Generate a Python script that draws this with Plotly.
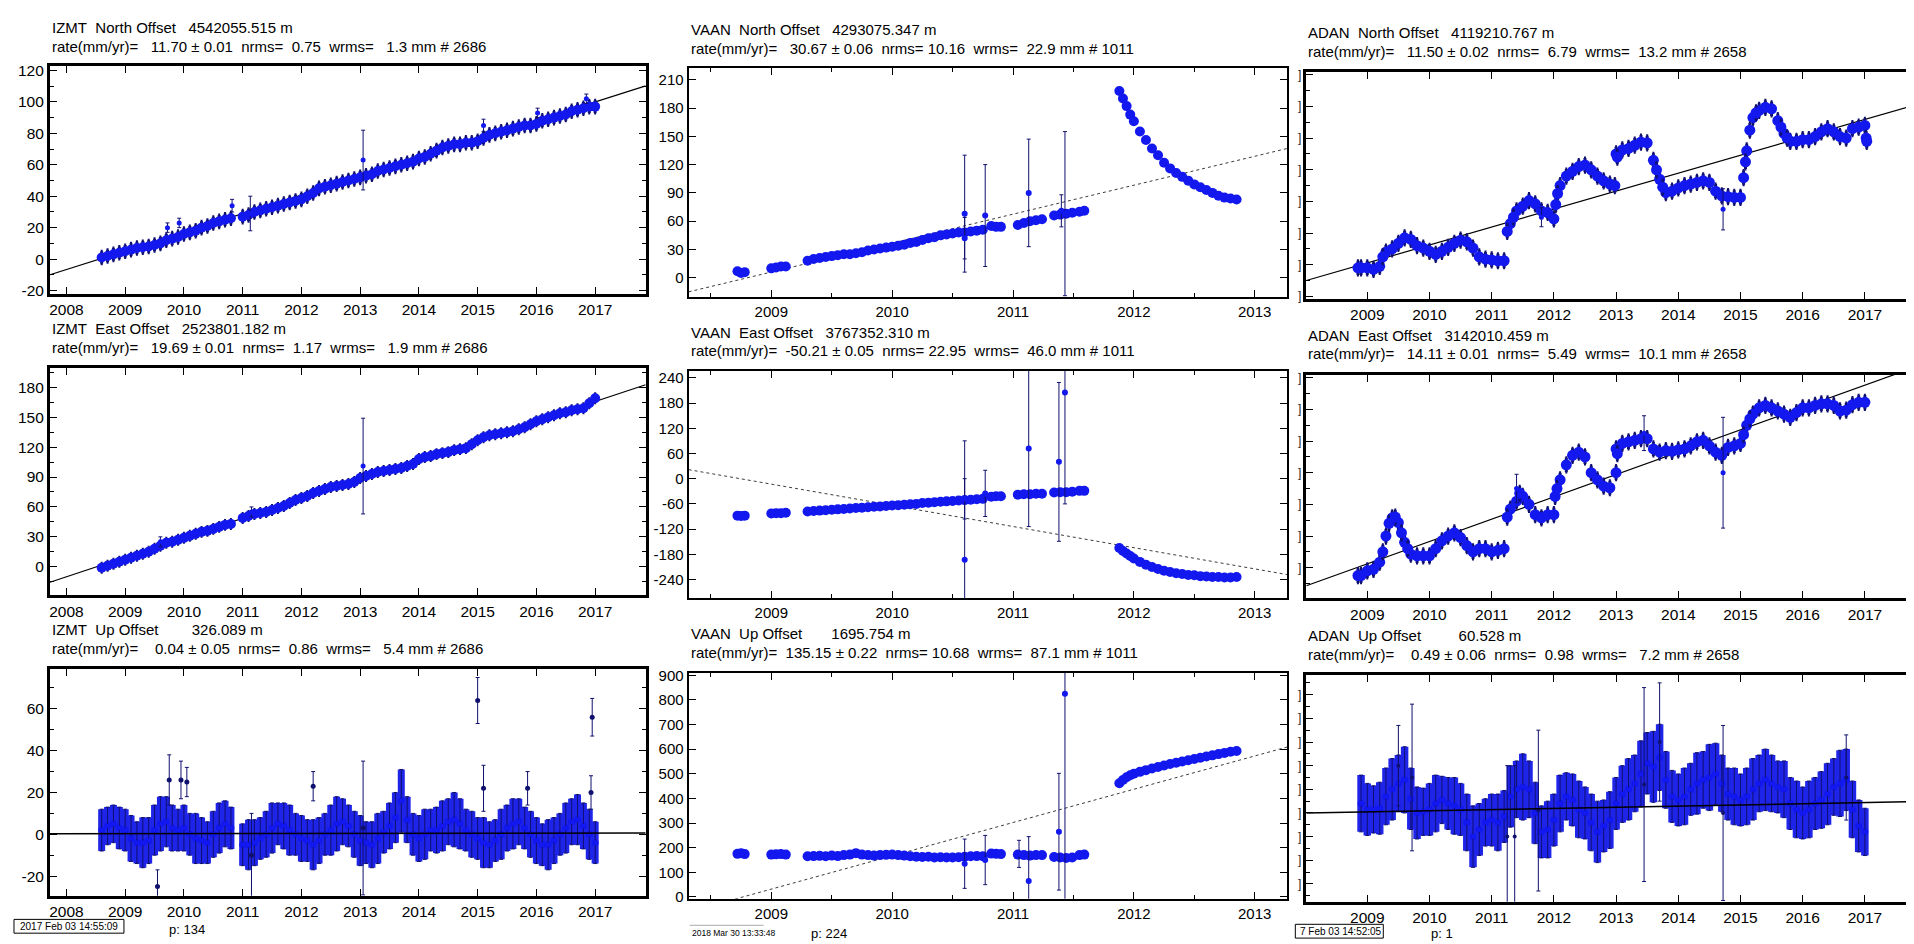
import plotly.graph_objects as go

W, H = 1914, 944
FONT = "Liberation Sans, Arial, Helvetica, sans-serif"
BLUE = "rgb(18,24,238)"
NAVY = "rgb(16,16,110)"

# ---------------------------------------------------------------- IZMT
IZMT_T = [2008.6, 2008.7, 2008.8, 2008.9,
          2009.0, 2009.1, 2009.2, 2009.3, 2009.4, 2009.5, 2009.6, 2009.7, 2009.8, 2009.9,
          2010.0, 2010.1, 2010.2, 2010.3, 2010.4, 2010.5, 2010.6, 2010.7, 2010.8, 2010.9,
          2011.0, 2011.1, 2011.2, 2011.3, 2011.4, 2011.5, 2011.6, 2011.7, 2011.8, 2011.9,
          2012.0, 2012.1, 2012.2, 2012.3, 2012.4, 2012.5, 2012.6, 2012.7, 2012.8, 2012.9,
          2013.0, 2013.1, 2013.2, 2013.3, 2013.4, 2013.5, 2013.6, 2013.7, 2013.8, 2013.9,
          2014.0, 2014.1, 2014.2, 2014.3, 2014.4, 2014.5, 2014.6, 2014.7, 2014.8, 2014.9,
          2015.0, 2015.1, 2015.2, 2015.3, 2015.4, 2015.5, 2015.6, 2015.7, 2015.8, 2015.9,
          2016.0, 2016.1, 2016.2, 2016.3, 2016.4, 2016.5, 2016.6, 2016.7, 2016.8, 2016.9,
          2017.0]
IZMT_N = [1, 2, 3, 4,
          5, 6, 7, 7.5, 8, 9, 10, 12, 13, 14,
          16, 17, 18, 20, 21, 23, 24, 25, 26, None,
          27, 28, 30, 31, 32, 33, 34, 35, 36, 37,
          38, 40, 42, 45, 46, 47, 48, 49, 50, 51,
          52, 53, 54, 56, 57, 58, 59, 60, 61, 62,
          64, 65, 67, 69, 71, 72, 73, 73, 74, 74,
          75, 77, 79, 80, 81, 82, 83, 84, 85, 85,
          86, 88, 89, 90, 91, 92, 94, 95, 96, 97,
          97]
IZMT_E = [-1, 1, 3, 5,
          7, 9, 11, 13, 15, 18, 21, 24, 25, 27,
          29, 31, 33, 35, 36, 38, 40, 42, 43, None,
          49, 51, 53, 54, 55, 57, 59, 61, 64, 67,
          69, 71, 74, 76, 78, 80, 81, 82, 83, 85,
          89, 91, 93, 95, 96, 97, 98, 99, 101, 103,
          108, 110, 111, 113, 114, 115, 117, 118, 119, 123,
          127, 130, 132, 133, 134, 135, 136, 138, 140, 143,
          146, 148, 150, 152, 154, 155, 157, 158, 159, 164,
          169]
IZMT_U = [2, 4, 5, 3,
          2, -2, -4, -4, -3, 2, 5, 6, 3, 2,
          3, 0, -2, -3, -4, 0, 3, 5, 3, None,
          -5, -5, -4, -2, 0, 3, 5, 4, 2, 0,
          -2, -3, -5, -3, 0, 2, 5, 6, 4, 0,
          -3, -4, -5, -2, 1, 4, 8, 16, 7, 0,
          -2, 0, 2, 2, 4, 6, 7, 5, 2, 0,
          -2, -4, -5, -3, 0, 3, 5, 6, 3, 0,
          -3, -5, -5, -3, 0, 3, 6, 7, 4, 0,
          -4]
IZMT_U_ERR = [10, 9, 9, 10,
              10, 11, 10, 12, 11, 12, 13, 12, 11, 10,
              11, 10, 12, 11, 10, 11, 12, 11, 10, 10,
              10, 12, 11, 10, 11, 12, 10, 11, 12, 10,
              11, 10, 12, 11, 10, 12, 13, 11, 10, 11,
              12, 10, 11, 12, 10, 11, 12, 15, 11, 10,
              11, 12, 10, 11, 12, 11, 13, 12, 10, 11,
              10, 12, 11, 10, 12, 11, 12, 11, 10, 11,
              11, 10, 12, 11, 10, 12, 11, 12, 11, 12,
              10]
# outliers (time, value, sigma)
IZMT_N_OUT_T = [2009.72, 2009.92, 2010.82, 2011.13, 2013.05, 2015.1, 2016.02, 2016.85]
IZMT_N_OUT_V = [20, 23, 34, 29, 63, 85, 93, 102]
IZMT_N_OUT_E = [3, 3, 4, 11, 19, 4, 3, 3]
IZMT_E_OUT_T = [2009.6, 2011.15, 2013.05]
IZMT_E_OUT_V = [25, 55, 101]
IZMT_E_OUT_E = [5, 5, 48]
IZMT_U_OUT_T = [2009.55, 2009.75, 2009.95, 2010.05, 2011.15, 2012.2, 2013.05, 2015.0, 2015.1, 2015.85, 2016.93, 2016.95]
IZMT_U_OUT_V = [-25, 26, 26, 25, -10, 23, 3, 64, 22, 22, 20, 56]
IZMT_U_OUT_E = [8, 12, 9, 7, 20, 7, 32, 11, 11, 8, 8, 9]
# fitted trends (end points)
IZMT_FIT_T = [2007.72, 2017.86]
IZMT_N_FIT = [-10.0, 110.2]
IZMT_E_FIT = [-15.5, 182.6]
IZMT_U_FIT = [0.3, 0.6]

# ---------------------------------------------------------------- VAAN
VAAN_T = [2008.72, 2008.75, 2008.78,
          2009.0, 2009.04, 2009.08, 2009.12,
          2009.30, 2009.35, 2009.40, 2009.45, 2009.50, 2009.55, 2009.60, 2009.65, 2009.70, 2009.75,
          2009.80, 2009.85, 2009.90, 2009.95, 2010.00, 2010.05, 2010.10, 2010.15, 2010.20, 2010.25,
          2010.30, 2010.35, 2010.40, 2010.45, 2010.50, 2010.55, 2010.60, 2010.65, 2010.70, 2010.75,
          2010.82, 2010.86, 2010.90,
          2011.04, 2011.09, 2011.14, 2011.19, 2011.24,
          2011.34, 2011.39, 2011.44, 2011.49,
          2011.55, 2011.59,
          2011.88, 2011.91, 2011.94, 2011.97, 2012.00, 2012.05, 2012.10, 2012.15, 2012.20, 2012.25,
          2012.30, 2012.35, 2012.40, 2012.45, 2012.50, 2012.55, 2012.60, 2012.65, 2012.70, 2012.75,
          2012.80, 2012.85]
VAAN_N = [7, 5, 6,
          10, 11, 12, 12,
          18, 20, 21, 22, 23, 24, 25, 25, 26, 27,
          29, 30, 31, 32, 33, 34, 35, 37, 38, 40,
          42, 43, 45, 46, 47, 48, 48, 49, 50, 51,
          55, 54, 54,
          56, 58, 60, 61, 62,
          66, 67, 68, 69,
          70, 71,
          198, 190, 182, 173, 166, 155, 146, 137, 130, 122,
          116, 111, 107, 103, 99, 96, 93, 90, 87, 85,
          84, 83]
VAAN_E = [-88, -89, -88,
          -83, -82, -82, -81,
          -78, -77, -76, -75, -74, -73, -72, -71, -70, -69,
          -68, -67, -66, -65, -64, -63, -62, -61, -60, -58,
          -57, -56, -55, -54, -53, -52, -51, -50, -49, -48,
          -43, -42, -42,
          -38, -37, -37, -36, -36,
          -33, -32, -32, -31,
          -29, -29,
          -165, -172, -178, -184, -190, -198, -205, -210, -215, -219,
          -222, -225, -227, -229, -230, -232, -233, -234, -234, -235,
          -235, -234]
VAAN_U = [175, 178, 174,
          172, 173, 174, 172,
          165, 166, 167, 165, 168, 166, 170, 172, 178, 172,
          170, 168, 170, 171, 172, 170, 168, 165, 163, 162,
          163, 160, 161, 160, 160, 161, 163, 165, 166, 165,
          176, 175, 174,
          172, 170, 168, 170, 170,
          162, 160, 158, 160,
          170, 172,
          462, 475, 486, 494, 500, 508, 515, 522, 528, 534,
          540, 545, 550, 555, 560, 565, 570, 575, 580, 585,
          590, 593]
VAAN_N_OUT_T = [2010.6, 2010.6, 2010.77, 2011.13, 2011.4, 2011.43]
VAAN_N_OUT_V = [68, 42, 66, 90, 71, 68]
VAAN_N_OUT_E = [62, 22, 54, 57, 17, 87]
VAAN_E_OUT_T = [2010.6, 2010.6, 2010.77, 2011.13, 2011.38, 2011.43]
VAAN_E_OUT_V = [-193, -48, -35, 72, 40, 205]
VAAN_E_OUT_E = [283, 48, 55, 186, 189, 265]
VAAN_U_OUT_T = [2010.6, 2010.77, 2011.05, 2011.13, 2011.38, 2011.43]
VAAN_U_OUT_V = [135, 150, 175, 65, 265, 825]
VAAN_U_OUT_E = [100, 100, 55, 180, 237, 900]
VAAN_FIT_T = [2008.316, 2013.27]
VAAN_N_FIT = [-14.9, 137.1]
VAAN_E_FIT = [21.5, -228.3]
VAAN_U_FIT = [-60.5, 609.0]

# ---------------------------------------------------------------- ADAN
ADAN_T = [2008.9,
          2009.0, 2009.1, 2009.2, 2009.3, 2009.4, 2009.5, 2009.6, 2009.7, 2009.8, 2009.9,
          2010.0, 2010.1, 2010.2, 2010.3, 2010.4, 2010.5, 2010.6, 2010.7, 2010.8, 2010.9,
          2011.0, 2011.1, 2011.2, 2011.3, 2011.4, 2011.5, 2011.6, 2011.7, 2011.8, 2011.9,
          2012.0, 2012.1, 2012.2, 2012.3, 2012.4, 2012.5, 2012.6, 2012.7, 2012.8, 2012.9,
          2013.0, 2013.1, 2013.2, 2013.3, 2013.4, 2013.5, 2013.6, 2013.7, 2013.8, 2013.9,
          2014.0, 2014.1, 2014.2, 2014.3, 2014.4, 2014.5, 2014.6, 2014.7, 2014.8, 2014.9,
          2015.0, 2015.1, 2015.2, 2015.3, 2015.4, 2015.5, 2015.6, 2015.7, 2015.8, 2015.9,
          2016.0, 2016.1, 2016.2, 2016.3, 2016.4, 2016.5, 2016.6, 2016.7, 2016.8, 2016.9,
          2017.0]
ADAN_N = [-2,
          -2, -3, -1, 8, 10, 13.5, 17, 16, 12, 10.5,
          8.5, 6.5, 8.5, 11, 13.5, 15.5, 14.5, 10.5, 5, 3.5,
          3, 2.5, 2.5, 26, 34, 37, 40.5, 38.5, 34, 33,
          29, 50, 56, 59, 62, 63, 60, 56, 53, 51,
          70, 72.5, 73.5, 75.5, 77.5, 77, 66, 54, 45.5, 46.5,
          48.5, 50, 51, 52, 53, 52, 46.5, 43.5, 43, 42.5,
          42.5, 72, 93, 97.5, 99.5, 98.5, 91, 83, 78, 78,
          79, 79, 81, 84, 86, 84, 81, 80, 86, 87,
          88]
ADAN_E = [-5,
          -2, -1, 3.5, 20, 31.5, 28.5, 16, 8.5, 7.5, 7.5,
          7.5, 12, 17, 20, 22, 19, 14, 10, 12, 12,
          10, 11, 12, 37, 42, 45, 40, 33.5, 31.5, 33.5,
          33.5, 55.5, 65, 71, 73, 70, 60, 55.5, 51.5, 50.5,
          75, 78.5, 79.5, 80.5, 81.5, 81.5, 75, 73, 74, 73.5,
          74.5, 75, 77, 79.5, 80.5, 77, 73, 71, 76, 77,
          78.5, 90, 97, 101, 102.5, 101, 99, 97, 95, 98,
          101, 101, 102.5, 103.5, 103.5, 102.5, 99, 99.5, 103, 104.5,
          104.5]
ADAN_U = [4,
          1.5, 1.5, 2, 7, 10, 12.5, 14, 6, 0, 0.5,
          1.5, 4, 5.5, 4, 3, 1.5, -4, -10, -7, -4,
          -3, -4, -1.5, 7, 10, 11, 10, 0, -8, -7,
          -3, 4, 7, 5.5, 1.5, 0, -4, -8, -5.5, -3,
          4, 8, 10, 12.5, 16.5, 21, 19.5, 23.5, 14, 7,
          5.5, 7, 10, 12.5, 14, 15, 16.5, 12.5, 8, 7,
          5.5, 7, 10, 12.5, 14, 12.5, 11, 10, 4, 1.5,
          0, 1.5, 4, 5.5, 8, 11, 12.5, 14, 1.5, -5.5,
          -8]
ADAN_U_ERR = [12,
              11, 10, 11, 12, 13, 12, 14, 13, 11, 10,
              11, 12, 10, 11, 12, 11, 12, 13, 11, 10,
              11, 12, 11, 13, 12, 14, 12, 13, 11, 12,
              11, 12, 10, 11, 12, 11, 12, 13, 11, 12,
              11, 12, 13, 12, 14, 13, 15, 14, 12, 11,
              11, 12, 11, 13, 12, 14, 13, 12, 11, 12,
              11, 12, 13, 12, 13, 12, 11, 12, 11, 12,
              11, 12, 11, 12, 13, 12, 14, 13, 12, 11,
              10]
# extra epochs along the steep steps of the horizontal components
ADAN_N_STEP_T = [2008.85, 2009.25, 2011.25, 2011.35, 2012.03, 2012.06, 2012.98, 2013.02, 2013.65,
                 2013.75, 2015.05, 2015.08, 2015.15, 2015.25, 2015.65, 2015.75, 2017.02, 2017.03]
ADAN_N_STEP_V = [-2, 5, 21, 30, 38, 45, 50, 68, 60, 49, 55, 65, 85, 96, 87, 80, 80, 78]
ADAN_E_STEP_T = [2008.85, 2009.25, 2009.35, 2009.45, 2009.55, 2009.65, 2011.25, 2011.45, 2012.02,
                 2012.05, 2013.0, 2013.02, 2015.05, 2015.15]
ADAN_E_STEP_V = [-5, 10, 28, 32, 22, 12, 32, 47, 45, 50, 60, 72, 84, 94]
ADAN_N_OUT_T = [2011.8, 2014.72]
ADAN_N_OUT_V = [30, 35]
ADAN_N_OUT_E = [6, 13]
ADAN_E_OUT_T = [2011.4, 2013.45, 2014.72]
ADAN_E_OUT_V = [50, 85, 60]
ADAN_E_OUT_E = [9, 11, 35]
ADAN_U_OUT_T = [2009.5, 2009.72, 2011.25, 2011.37, 2011.75, 2013.45, 2013.7, 2014.72, 2016.7]
ADAN_U_OUT_V = [20, 15, -10, -10, 1, 12, 30, 0, 15]
ADAN_U_OUT_E = [17, 31, 30, 30, 34, 41, 25, 37, 18]
ADAN_FIT_T = [2008.02, 2017.87]
ADAN_N_FIT = [-10.0, 101.7]
ADAN_E_FIT = [-11.4, 127.6]
ADAN_U_FIT = [0.0, 4.8]

# ---------------------------------------------------------------- ticks
YEARS_IZMT = [2008, 2009, 2010, 2011, 2012, 2013, 2014, 2015, 2016, 2017]
YEARS_VAAN = [2009, 2010, 2011, 2012, 2013]
YEARS_ADAN = [2009, 2010, 2011, 2012, 2013, 2014, 2015, 2016, 2017]
YT_IZMT_N = [-20, 0, 20, 40, 60, 80, 100, 120]
YT_IZMT_E = [0, 30, 60, 90, 120, 150, 180]
YT_IZMT_U = [-20, 0, 20, 40, 60]
YT_VAAN_N = [0, 30, 60, 90, 120, 150, 180, 210]
YT_VAAN_E = [-240, -180, -120, -60, 0, 60, 120, 180, 240]
YT_VAAN_U = [0, 100, 200, 300, 400, 500, 600, 700, 800, 900]
YT_ADAN_N = [-20, 0, 20, 40, 60, 80, 100, 120]
YT_ADAN_E = [-20, 0, 20, 40, 60, 80, 100, 120]
YT_ADAN_U = [-30, -20, -10, 0, 10, 20, 30, 40, 50]

TITLES = [
    ("IZMT  North Offset   4542055.515 m", "rate(mm/yr)=   11.70 ± 0.01  nrms=  0.75  wrms=   1.3 mm # 2686"),
    ("IZMT  East Offset   2523801.182 m", "rate(mm/yr)=   19.69 ± 0.01  nrms=  1.17  wrms=   1.9 mm # 2686"),
    ("IZMT  Up Offset        326.089 m", "rate(mm/yr)=    0.04 ± 0.05  nrms=  0.86  wrms=   5.4 mm # 2686"),
    ("VAAN  North Offset   4293075.347 m", "rate(mm/yr)=   30.67 ± 0.06  nrms= 10.16  wrms=  22.9 mm # 1011"),
    ("VAAN  East Offset   3767352.310 m", "rate(mm/yr)=  -50.21 ± 0.05  nrms= 22.95  wrms=  46.0 mm # 1011"),
    ("VAAN  Up Offset       1695.754 m", "rate(mm/yr)=  135.15 ± 0.22  nrms= 10.68  wrms=  87.1 mm # 1011"),
    ("ADAN  North Offset   4119210.767 m", "rate(mm/yr)=   11.50 ± 0.02  nrms=  6.79  wrms=  13.2 mm # 2658"),
    ("ADAN  East Offset   3142010.459 m", "rate(mm/yr)=   14.11 ± 0.01  nrms=  5.49  wrms=  10.1 mm # 2658"),
    ("ADAN  Up Offset         60.528 m", "rate(mm/yr)=    0.49 ± 0.06  nrms=  0.98  wrms=   7.2 mm # 2658"),
]

# ---------------------------------------------------------------- layout geometry (pixels)
PANELS = [
    dict(box=(41, 637, 52, 283), xr=IZMT_FIT_T, yr=[-22.1, 122.7], xt=YEARS_IZMT, yt=YT_IZMT_N, ym=10, lw=3, ty=13),
    dict(box=(41, 637, 358, 589), xr=IZMT_FIT_T, yr=[-28.6, 199.7], xt=YEARS_IZMT, yt=YT_IZMT_E, ym=15, lw=3, ty=318),
    dict(box=(41, 637, 664, 894), xr=IZMT_FIT_T, yr=[-29.4, 79.0], xt=YEARS_IZMT, yt=YT_IZMT_U, ym=10, lw=3, ty=624),
    dict(box=(680, 1279, 54, 286), xr=VAAN_FIT_T, yr=[-20.1, 222.2], xt=YEARS_VAAN, yt=YT_VAAN_N, ym=None, lw=2, ty=15),
    dict(box=(680, 1279, 361, 592), xr=VAAN_FIT_T, yr=[-284.5, 257.1], xt=YEARS_VAAN, yt=YT_VAAN_E, ym=None, lw=2, ty=322),
    dict(box=(680, 1279, 668, 897), xr=VAAN_FIT_T, yr=[-7.0, 909.0], xt=YEARS_VAAN, yt=YT_VAAN_U, ym=None, lw=2, ty=628),
    dict(box=(1298, 1911, 58, 288), xr=ADAN_FIT_T, yr=[-21.5, 121.7], xt=YEARS_ADAN, yt=YT_ADAN_N, ym=10, lw=3, ty=18),
    dict(box=(1298, 1911, 365, 592), xr=ADAN_FIT_T, yr=[-19.3, 122.0], xt=YEARS_ADAN, yt=YT_ADAN_E, ym=10, lw=3, ty=325),
    dict(box=(1298, 1911, 670, 900), xr=ADAN_FIT_T, yr=[-37.5, 58.3], xt=YEARS_ADAN, yt=YT_ADAN_U, ym=5, lw=3, ty=630),
]

fig = go.Figure()


def ax(k, c):
    return c if k == 1 else f"{c}{k}"


def fit_line(k, t, v, dash="solid", color="black", width=1.2):
    fig.add_trace(go.Scatter(x=t, y=v, mode="lines", xaxis=ax(k, "x"), yaxis=ax(k, "y"),
                             line=dict(color=color, width=width, dash=dash),
                             showlegend=False, hoverinfo="skip"))


def points(k, t, v, err=None, const=None, size=8, ecolor=NAVY, ethick=1, ewidth=2, mcolor=BLUE):
    if err is not None:
        eb = dict(type="data", array=err, visible=True, color=ecolor, thickness=ethick, width=ewidth)
    elif const is not None:
        eb = dict(type="constant", value=const, visible=True, color=ecolor, thickness=ethick, width=ewidth)
    else:
        eb = dict(visible=False)
    fig.add_trace(go.Scatter(x=t, y=v, mode="markers", xaxis=ax(k, "x"), yaxis=ax(k, "y"),
                             marker=dict(size=size, color=mcolor, line=dict(width=0)),
                             error_y=eb, showlegend=False, hoverinfo="skip"))


BAND = "rgb(30,36,232)"

# IZMT
fit_line(1, IZMT_FIT_T, IZMT_N_FIT)
points(1, IZMT_T, IZMT_N, const=4, size=10, ethick=3, ewidth=1)
points(1, IZMT_N_OUT_T, IZMT_N_OUT_V, err=IZMT_N_OUT_E, size=5)
fit_line(2, IZMT_FIT_T, IZMT_E_FIT)
points(2, IZMT_T, IZMT_E, const=4.5, size=10, ethick=3, ewidth=1)
points(2, IZMT_E_OUT_T, IZMT_E_OUT_V, err=IZMT_E_OUT_E, size=5)
points(3, IZMT_T, IZMT_U, err=IZMT_U_ERR, size=7, ecolor=BAND, ethick=7, ewidth=0)
points(3, IZMT_T, IZMT_U, err=IZMT_U_ERR, size=5, ecolor=NAVY, ethick=1, ewidth=2)
points(3, IZMT_U_OUT_T, IZMT_U_OUT_V, err=IZMT_U_OUT_E, size=5, mcolor=NAVY)
fit_line(3, IZMT_FIT_T, IZMT_U_FIT, width=1.5)

# VAAN
fit_line(4, VAAN_FIT_T, VAAN_N_FIT, dash="dot", color="rgb(60,60,60)", width=1)
points(4, VAAN_T, VAAN_N, const=2.5, size=10, ethick=2, ewidth=1)
points(4, VAAN_N_OUT_T, VAAN_N_OUT_V, err=VAAN_N_OUT_E, size=6)
fit_line(5, VAAN_FIT_T, VAAN_E_FIT, dash="dot", color="rgb(60,60,60)", width=1)
points(5, VAAN_T, VAAN_E, const=3, size=10, ethick=2, ewidth=1)
points(5, VAAN_E_OUT_T, VAAN_E_OUT_V, err=VAAN_E_OUT_E, size=6)
fit_line(6, VAAN_FIT_T, VAAN_U_FIT, dash="dot", color="rgb(60,60,60)", width=1)
points(6, VAAN_T, VAAN_U, const=9, size=10, ethick=2, ewidth=1)
points(6, VAAN_U_OUT_T, VAAN_U_OUT_V, err=VAAN_U_OUT_E, size=6)

# ADAN
fit_line(7, ADAN_FIT_T, ADAN_N_FIT)
points(7, ADAN_T, ADAN_N, const=4.5, size=11, ethick=3, ewidth=1)
points(7, ADAN_N_STEP_T, ADAN_N_STEP_V, const=4.5, size=11, ethick=3, ewidth=1)
points(7, ADAN_N_OUT_T, ADAN_N_OUT_V, err=ADAN_N_OUT_E, size=5)
fit_line(8, ADAN_FIT_T, ADAN_E_FIT)
points(8, ADAN_T, ADAN_E, const=4.5, size=11, ethick=3, ewidth=1)
points(8, ADAN_E_STEP_T, ADAN_E_STEP_V, const=4.5, size=11, ethick=3, ewidth=1)
points(8, ADAN_E_OUT_T, ADAN_E_OUT_V, err=ADAN_E_OUT_E, size=5)
points(9, ADAN_T, ADAN_U, err=ADAN_U_ERR, size=7, ecolor=BAND, ethick=7.5, ewidth=0)
points(9, ADAN_T, ADAN_U, err=ADAN_U_ERR, size=5, ecolor=NAVY, ethick=1, ewidth=2)
points(9, ADAN_U_OUT_T, ADAN_U_OUT_V, err=ADAN_U_OUT_E, size=4, mcolor=NAVY)
fit_line(9, ADAN_FIT_T, ADAN_U_FIT, width=1.5)

# ---------------------------------------------------------------- axes
layout = dict(width=W, height=H, margin=dict(l=0, r=0, t=0, b=0),
              paper_bgcolor="white", plot_bgcolor="white", showlegend=False)
annotations = []
shapes = []


def text(x, y, s, size=14, anchor="left", color="black", family=FONT):
    annotations.append(dict(xref="paper", yref="paper", x=x / W, y=1 - y / H, text=s.replace(" ", "\u00a0"),
                            showarrow=False, xanchor=anchor, yanchor="middle",
                            font=dict(family=family, size=size, color=color)))


for i, p in enumerate(PANELS):
    k = i + 1
    x0, x1, y0, y1 = p["box"]
    tickfont = dict(family=FONT, size=15 if k in (4, 5, 6) else 15.5, color="black")
    xa = dict(domain=[x0 / W, x1 / W], range=p["xr"], anchor=ax(k, "y"),
              tickmode="array", tickvals=p["xt"], ticktext=[str(v) for v in p["xt"]],
              ticks="inside", ticklen=7, tickwidth=1, tickcolor="black",
              showline=True, linewidth=p["lw"], linecolor="black", mirror="ticks",
              showgrid=False, zeroline=False, tickfont=tickfont, fixedrange=True)
    if k in (4, 5, 6):
        xa["minor"] = dict(tickmode="linear", tick0=2008.5, dtick=1, ticks="inside", ticklen=4,
                           tickcolor="black", showgrid=False)
    ya = dict(domain=[1 - y1 / H, 1 - y0 / H], range=p["yr"], anchor=ax(k, "x"),
              tickmode="array", tickvals=p["yt"], ticktext=[str(v) for v in p["yt"]],
              ticks="inside", ticklen=7, tickwidth=1, tickcolor="black",
              showline=True, linewidth=p["lw"], linecolor="black", mirror="ticks",
              showgrid=False, zeroline=False, tickfont=tickfont, fixedrange=True,
              showticklabels=k < 7)
    if p["ym"]:
        ya["minor"] = dict(tickmode="linear", tick0=0, dtick=p["ym"], ticks="inside", ticklen=4,
                           tickcolor="black", showgrid=False)
    layout[ax(k, "xaxis")] = xa
    layout[ax(k, "yaxis")] = ya
    title, rate = TITLES[i]
    text(x0, p["ty"], title, size=15)
    text(x0, p["ty"] + 19, rate, size=15)
    # clipped tick-label fragments left of the ADAN frames
    if k >= 7:
        for v in p["yt"]:
            annotations.append(dict(xref="paper", yref=ax(k, "y"), x=1291 / W, y=v, text="]",
                                    showarrow=False, xanchor="center", yanchor="middle",
                                    font=dict(family=FONT, size=12, color="rgb(40,40,40)")))

# footer stamps
shapes.append(dict(type="rect", xref="paper", yref="paper", x0=5 / W, x1=115 / W, y0=1 - 932 / H, y1=1 - 918 / H,
                   line=dict(color="black", width=1), fillcolor="white"))
text(60, 925, "2017 Feb 03 14:55:09", size=10, anchor="center")
text(158, 928, "p: 134", size=13)
shapes.append(dict(type="line", xref="paper", yref="paper", x0=681 / W, x1=755 / W, y0=1 - 924 / H, y1=1 - 924 / H,
                   line=dict(color="rgb(170,170,170)", width=1)))
text(681, 932, "2018 Mar 30 13:33:48", size=8.5)
text(800, 932, "p: 224", size=13)
shapes.append(dict(type="rect", xref="paper", yref="paper", x0=1287 / W, x1=1375 / W, y0=1 - 937 / H, y1=1 - 923 / H,
                   line=dict(color="black", width=1), fillcolor="white"))
text(1290, 930, "7 Feb 03 14:52:05", size=10)
text(1421, 932, "p: 1", size=13)

layout["annotations"] = annotations
layout["shapes"] = shapes
fig.update_layout(**layout)
fig.write_html("out.html")
